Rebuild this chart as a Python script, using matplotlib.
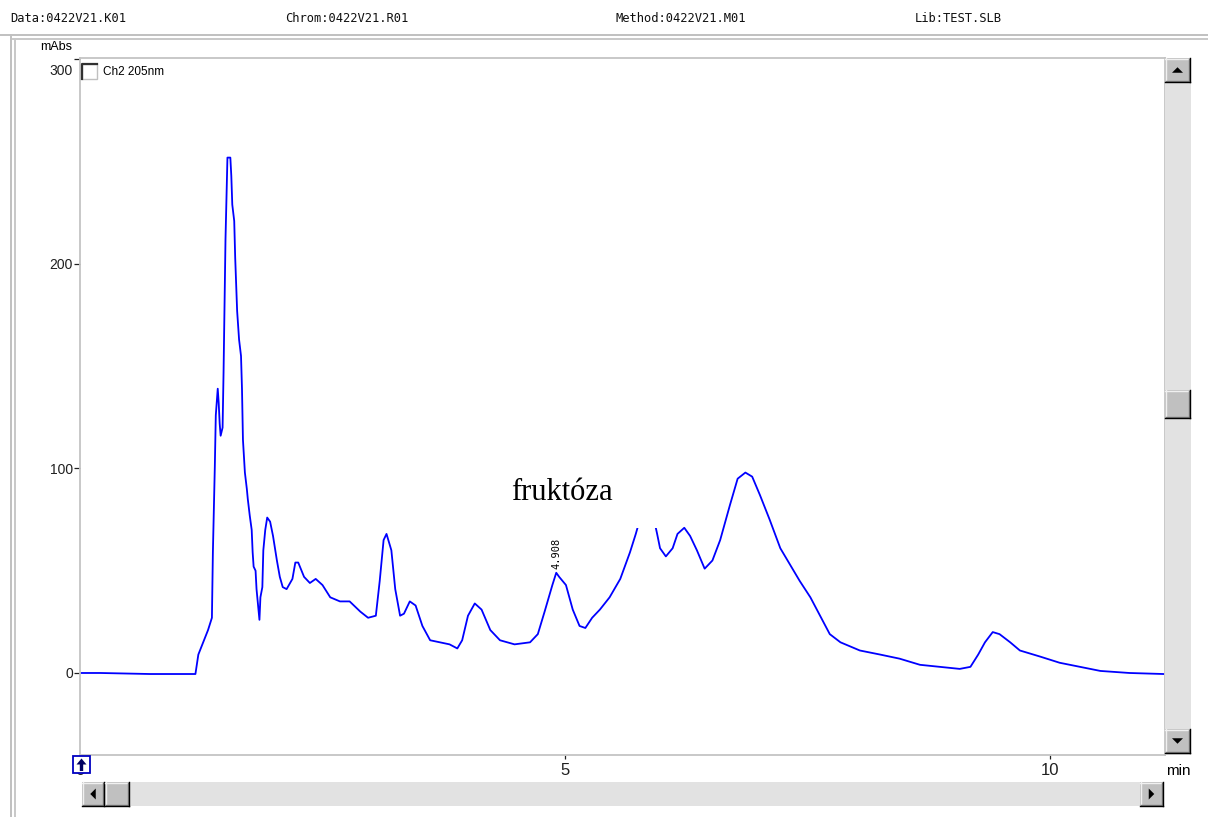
import matplotlib
matplotlib.use('Agg')
import matplotlib.pyplot as plt
from matplotlib.patches import Rectangle, Polygon
from matplotlib.transforms import ScaledTranslation

# ---------------- data ----------------
time_min = [0.00, 0.21, 0.72, 1.19, 1.22, 1.32, 1.36, 1.37, 1.39, 1.40, 1.42, 1.43,
            1.44, 1.45, 1.47, 1.48, 1.50, 1.52, 1.55, 1.56, 1.57, 1.59, 1.60, 1.62,
            1.64, 1.66, 1.67, 1.68, 1.70, 1.72, 1.73, 1.75, 1.77, 1.78, 1.79, 1.81,
            1.82, 1.85, 1.86, 1.88, 1.89, 1.91, 1.93, 1.96, 1.99, 2.03, 2.06, 2.09,
            2.13, 2.19, 2.22, 2.25, 2.31, 2.37, 2.43, 2.50, 2.58, 2.68, 2.78, 2.89,
            2.97, 3.05, 3.09, 3.13, 3.16, 3.21, 3.25, 3.30, 3.34, 3.40, 3.46, 3.53,
            3.61, 3.71, 3.81, 3.89, 3.94, 4.00, 4.07, 4.14, 4.23, 4.33, 4.48, 4.64,
            4.72, 4.79, 4.87, 4.91, 4.94, 5.01, 5.08, 5.15, 5.21, 5.28, 5.36, 5.46,
            5.57, 5.67, 5.73, 5.79, 5.85, 5.90, 5.95, 5.98, 6.04, 6.11, 6.16, 6.23,
            6.29, 6.36, 6.44, 6.52, 6.60, 6.70, 6.78, 6.86, 6.93, 7.01, 7.11, 7.22,
            7.32, 7.42, 7.53, 7.63, 7.73, 7.84, 8.04, 8.25, 8.45, 8.66, 8.87, 9.07,
            9.18, 9.26, 9.33, 9.41, 9.48, 9.59, 9.69, 9.90, 10.10, 10.31, 10.52,
            10.82, 11.17]
absorbance = [0, 0, -0.5, -0.5, 9, 21, 27, 59, 101, 126, 139, 132,
              122, 116, 120, 147, 212, 252, 252, 243, 229, 221, 203, 177,
              163, 155, 139, 114, 98, 90, 85, 77, 70, 59, 52, 50,
              41, 26, 37, 42, 60, 70, 76, 74, 67, 55, 47, 42,
              41, 46, 54, 54, 47, 44, 46, 43, 37, 35, 35, 30,
              27, 28, 45, 65, 68, 60, 41, 28, 29, 35, 33, 23,
              16, 15, 14, 12, 16, 28, 34, 31, 21, 16, 14, 15,
              19, 30, 43, 49, 47, 43, 31, 23, 22, 27, 31, 37,
              46, 59, 68, 78, 84, 79, 68, 61, 57, 61, 68, 71,
              67, 60, 51, 55, 65, 82, 95, 98, 96, 87, 75, 61,
              53, 45, 37, 28, 19, 15, 11, 9, 7, 4, 3, 2,
              3, 9, 15, 20, 19, 15, 11, 8, 5, 3, 1,
              0, -0.5]

peak_time = 4.908
peak_height = 49
peak_label = "4.908"
compound_label = "fruktóza"

y_ticks = [0, 100, 200, 300]
y_ticklabels = ["0", "100", "200", "300"]
x_ticks = [0, 5, 10]
x_ticklabels = ["0", "5", "10"]

header_texts = ["Data:0422V21.K01", "Chrom:0422V21.R01", "Method:0422V21.M01", "Lib:TEST.SLB"]
y_unit = "mAbs"
x_unit = "min"
channel_label = "Ch2 205nm"

# ---------------- figure ----------------
W, H = 1208, 817
fig = plt.figure(figsize=(W / 100, H / 100), dpi=100)
fig.patch.set_facecolor('white')

ax = fig.add_axes([80 / W, (H - 755) / H, (1165 - 80) / W, (755 - 58) / H], zorder=1)
ax.plot(time_min, absorbance, color='#0000FF', lw=1.3, zorder=2)
ax.set_xlim(0, 11.186)
ax.set_ylim(-40.1, 300.7)

ax.set_yticks(y_ticks)
ax.set_yticklabels(y_ticklabels, family='Liberation Sans', fontsize=10)
ax.set_xticks(x_ticks)
ax.set_xticklabels(x_ticklabels, family='Liberation Sans', fontsize=12)
ax.tick_params(axis='y', direction='out', length=4, width=0.9, pad=1, colors='#202020')
ax.tick_params(axis='x', direction='out', length=3, width=0.9, pad=3, colors='#202020')
for s in ax.spines.values():
    s.set_color('#C4C4C4')
    s.set_linewidth(1.3)
# top label "300" is drawn below its tick in the original
lab300 = ax.get_yticklabels()[-1]
lab300.set_transform(lab300.get_transform() + ScaledTranslation(0, -0.10, fig.dpi_scale_trans))

# white box hiding part of the trace with the compound name
ax.add_patch(Rectangle((4.21, 71), 2.0, 33.5, facecolor='white', edgecolor='none', zorder=3))
ax.text(4.97, 84.5, compound_label, family='Liberation Serif', fontsize=22,
        ha='center', va='baseline', zorder=4)
ax.text(peak_time, peak_height + 2, peak_label, family='DejaVu Sans Mono', fontsize=7.5,
        rotation=90, ha='center', va='bottom', zorder=4)

# ---------------- window decorations (pixel overlay) ----------------
ov = fig.add_axes([0, 0, 1, 1], zorder=5)
ov.set_xlim(0, W)
ov.set_ylim(H, 0)
ov.axis('off')
ov.patch.set_alpha(0)

hx = [10, 285, 615, 915]
for x, t in zip(hx, header_texts):
    ov.text(x, 18, t, family='DejaVu Sans Mono', fontsize=8.7, va='center', ha='left', color='#101010')

ov.plot([0, W], [35, 35], color='#C0C0C0', lw=1.4)
ov.plot([13, W], [38.5, 38.5], color='#C8C8C8', lw=1.4)
ov.plot([11, 11], [35, H], color='#C0C0C0', lw=1.4)
ov.plot([14.5, 14.5], [38.5, H], color='#C8C8C8', lw=1.4)

ov.text(40, 47, y_unit, family='Liberation Sans', fontsize=9, va='center', ha='left')

# checkbox + channel label
ov.add_patch(Rectangle((82, 64), 15, 15, facecolor='white', edgecolor='#C0C0C0', lw=1))
ov.plot([82, 82, 97], [79, 64, 64], color='#303030', lw=1.6)
ov.text(103, 72, channel_label, family='Liberation Sans', fontsize=8.5, va='center', ha='left')

ov.text(1178, 771, x_unit, family='Liberation Sans', fontsize=11, va='center', ha='center')


def button(x0, y0, x1, y1):
    ov.add_patch(Rectangle((x0, y0), x1 - x0, y1 - y0, facecolor='#C0C0C0', edgecolor='none'))
    ov.plot([x0, x1], [y0 + 0.5, y0 + 0.5], color='#F0F0F0', lw=1)
    ov.plot([x0 + 0.5, x0 + 0.5], [y0, y1], color='#F0F0F0', lw=1)
    ov.plot([x0 + 1, x1 - 1.5], [y1 - 1.5, y1 - 1.5], color='#808080', lw=1)
    ov.plot([x1 - 1.5, x1 - 1.5], [y0 + 1, y1 - 1], color='#808080', lw=1)
    ov.plot([x0, x1], [y1 - 0.3, y1 - 0.3], color='#000000', lw=1)
    ov.plot([x1 - 0.3, x1 - 0.3], [y0, y1], color='#000000', lw=1)


def tri(cx, cy, d, s=5.5):
    if d == 'up':
        pts = [(cx - s, cy + s / 2), (cx + s, cy + s / 2), (cx, cy - s / 2)]
    elif d == 'down':
        pts = [(cx - s, cy - s / 2), (cx + s, cy - s / 2), (cx, cy + s / 2)]
    elif d == 'left':
        pts = [(cx + s / 2, cy - s), (cx + s / 2, cy + s), (cx - s / 2, cy)]
    else:
        pts = [(cx - s / 2, cy - s), (cx - s / 2, cy + s), (cx + s / 2, cy)]
    ov.add_patch(Polygon(pts, closed=True, facecolor='black', edgecolor='none'))


# vertical scrollbar
ov.add_patch(Rectangle((1165, 58), 26, 697, facecolor='#E2E2E2', edgecolor='none'))
button(1165, 58, 1190, 82)
tri(1177.5, 70, 'up')
button(1165, 729, 1190, 753)
tri(1177.5, 741, 'down')
button(1165, 390, 1190, 418)

# horizontal scrollbar
ov.add_patch(Rectangle((82, 782), 1081, 24, facecolor='#E2E2E2', edgecolor='none'))
button(82, 782, 104, 806)
tri(93, 794, 'left')
button(105, 782, 129, 806)
button(1140, 782, 1163, 806)
tri(1151.5, 794, 'right')

# small marker icon at origin
ov.add_patch(Rectangle((73, 756), 17, 17, facecolor='white', edgecolor='#0000C0', lw=1.3))
ov.add_patch(Polygon([(81.5, 758.5), (76.5, 764.5), (79.8, 764.5), (79.8, 771),
                      (83.2, 771), (83.2, 764.5), (86.5, 764.5)],
                     closed=True, facecolor='#000060', edgecolor='none'))

fig.savefig('out.png', dpi=100, facecolor='white')
